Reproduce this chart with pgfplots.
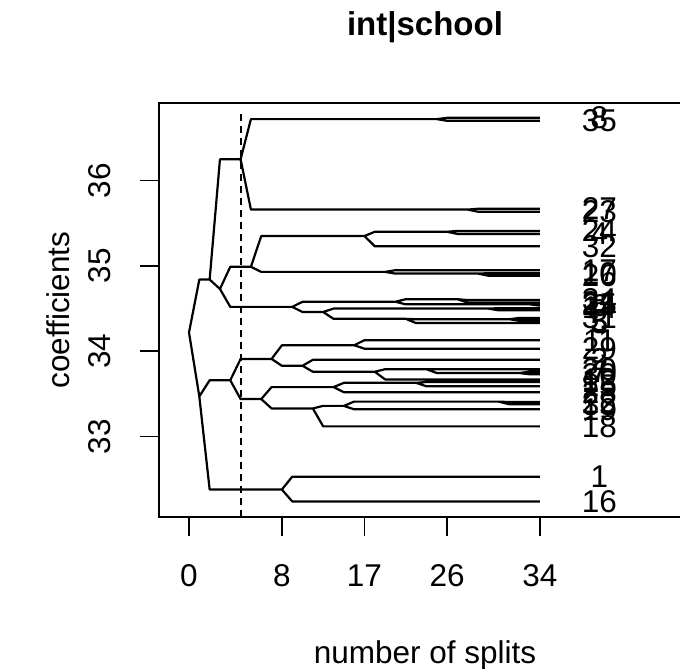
\documentclass[border=0pt]{standalone}
\usepackage{fontspec}
\setmainfont{Liberation Sans}
\usepackage{pgfplots}
\pgfplotsset{compat=1.18}
\usepackage{pgfplotstable}
\newcommand{\rfont}{\fontsize{31.5}{36}\selectfont}
\newcommand{\tfont}{\fontsize{33}{38}\selectfont\bfseries}

% tree segments: x = number of splits, y = coefficient; nan rows break the line
\pgfplotstableread{
x y
0 34.22
1 34.84
2 34.84
nan nan
0 34.22
1 33.47
nan nan
1 33.47
2 33.66
4 33.66
nan nan
1 33.47
2 32.38
9 32.38
nan nan
2 34.84
3 36.25
5 36.25
nan nan
2 34.84
3 34.73
nan nan
3 34.73
4 34.99
6 34.99
nan nan
3 34.73
4 34.52
10 34.52
nan nan
4 33.66
5 33.91
8 33.91
nan nan
4 33.66
5 33.44
7 33.44
nan nan
5 36.25
6 36.72
24 36.72
nan nan
5 36.25
6 35.66
27 35.66
nan nan
6 34.99
7 35.35
17 35.35
nan nan
6 34.99
7 34.93
19 34.93
nan nan
7 33.44
8 33.58
14 33.58
nan nan
7 33.44
8 33.33
12 33.33
nan nan
8 33.91
9 34.07
16 34.07
nan nan
8 33.91
9 33.83
11 33.83
nan nan
9 32.38
10 32.53
34 32.53
nan nan
9 32.38
10 32.24
34 32.24
nan nan
10 34.52
11 34.58
20 34.58
nan nan
10 34.52
11 34.46
13 34.46
nan nan
11 33.83
12 33.90
34 33.90
nan nan
11 33.83
12 33.76
18 33.76
nan nan
12 33.33
13 33.36
15 33.36
nan nan
12 33.33
13 33.12
34 33.12
nan nan
13 34.46
14 34.50
29 34.50
nan nan
13 34.46
14 34.38
21 34.38
nan nan
14 33.58
15 33.63
22 33.63
nan nan
14 33.58
15 33.52
34 33.52
nan nan
15 33.36
16 33.41
30 33.41
nan nan
15 33.36
16 33.32
34 33.32
nan nan
16 34.07
17 34.13
34 34.13
nan nan
16 34.07
17 34.03
34 34.03
nan nan
17 35.35
18 35.40
25 35.40
nan nan
17 35.35
18 35.23
34 35.23
nan nan
18 33.76
19 33.79
23 33.79
nan nan
18 33.76
19 33.67
34 33.67
nan nan
19 34.93
20 34.95
34 34.95
nan nan
19 34.93
20 34.91
28 34.91
nan nan
20 34.58
21 34.61
26 34.61
nan nan
20 34.58
21 34.55
33 34.55
nan nan
21 34.38
22 34.375
31 34.375
nan nan
21 34.38
22 34.33
34 34.33
nan nan
22 33.63
23 33.64
34 33.64
nan nan
22 33.63
23 33.59
34 33.59
nan nan
23 33.79
24 33.79
34 33.79
nan nan
23 33.79
24 33.745
32 33.745
nan nan
24 36.72
25 36.735
34 36.735
nan nan
24 36.72
25 36.70
34 36.70
nan nan
25 35.40
26 35.41
34 35.41
nan nan
25 35.40
26 35.375
34 35.375
nan nan
26 34.61
27 34.60
34 34.60
nan nan
26 34.61
27 34.57
34 34.57
nan nan
27 35.66
28 35.67
34 35.67
nan nan
27 35.66
28 35.635
34 35.635
nan nan
28 34.91
29 34.915
34 34.915
nan nan
28 34.91
29 34.885
34 34.885
nan nan
29 34.50
30 34.505
34 34.505
nan nan
29 34.50
30 34.48
34 34.48
nan nan
30 33.41
31 33.405
34 33.405
nan nan
30 33.41
31 33.38
34 33.38
nan nan
31 34.375
32 34.39
34 34.39
nan nan
31 34.375
32 34.36
34 34.36
nan nan
32 33.745
33 33.76
34 33.76
nan nan
32 33.745
33 33.73
34 33.73
nan nan
33 34.55
34 34.545
nan nan
33 34.55
34 34.535
}\treedata

\pgfplotstableread{
x y lab
39.77 36.735 8
39.77 36.70 35
39.77 35.67 27
39.77 35.635 23
39.77 35.41 24
39.77 35.375 4
39.77 35.23 32
39.77 34.95 17
39.77 34.915 10
39.77 34.885 26
39.77 34.60 34
39.77 34.57 21
39.77 34.545 25
39.77 34.535 6
39.77 34.505 14
39.77 34.48 9
39.77 34.39 31
39.77 34.36 3
39.77 34.33 5
39.77 34.13 11
39.77 34.03 29
39.77 33.90 2
39.77 33.79 20
39.77 33.76 7
39.77 33.73 30
39.77 33.67 12
39.77 33.64 13
39.77 33.59 15
39.77 33.52 28
39.77 33.405 22
39.77 33.38 33
39.77 33.32 19
39.77 33.12 18
39.77 32.53 1
39.77 32.24 16
}\leafdata

\begin{document}
\begin{tikzpicture}[x=1pt,y=1pt]
\useasboundingbox (0,0) rectangle (680,669);
\clip (0,0) rectangle (680,669);
\begin{axis}[
  at={(159pt,152pt)}, anchor=south west,
  scale only axis, width=532pt, height=414pt,
  xmin=-2.907, xmax=48.64, ymin=32.058, ymax=36.909,
  axis line style={line width=1.6pt},
  tick style={line width=1.6pt, black},
  tick align=outside, major tick length=19pt,
  xtick pos=bottom, ytick pos=left,
  xtick={0,9,17,25,34}, xticklabels={0,8,17,26,34},
  ytick={33,34,35,36},
  /pgf/number format/assume math mode=true,
  ticklabel style={font=\rfont},
  xticklabel style={anchor=center, yshift=-39.7pt},
  yticklabel style={rotate=90, anchor=center, yshift=40pt},
  title={int|school},
  title style={font=\tfont, at={(axis description cs:0.5,1)}, anchor=center, yshift=70pt},
  xlabel={number of splits},
  xlabel style={font=\rfont, at={(axis description cs:0.5,0)}, anchor=center, yshift=-138pt},
  ylabel={coefficients},
  ylabel style={font=\rfont, at={(axis description cs:0,0.5)}, anchor=center, yshift=101pt},
  unbounded coords=jump,
]
\addplot[black, line width=2.2pt, line join=round, mark=none] table[x=x, y=y] {\treedata};
\addplot[black, line width=1.9pt, dash pattern=on 7pt off 5pt, mark=none] coordinates {(5,32.058) (5,36.83)};
\addplot[draw=none, mark=none, nodes near coords, point meta=explicit symbolic,
  every node near coord/.append style={anchor=center, font=\rfont, inner sep=0pt}]
  table[x=x, y=y, meta=lab] {\leafdata};
\end{axis}
\end{tikzpicture}
\end{document}
